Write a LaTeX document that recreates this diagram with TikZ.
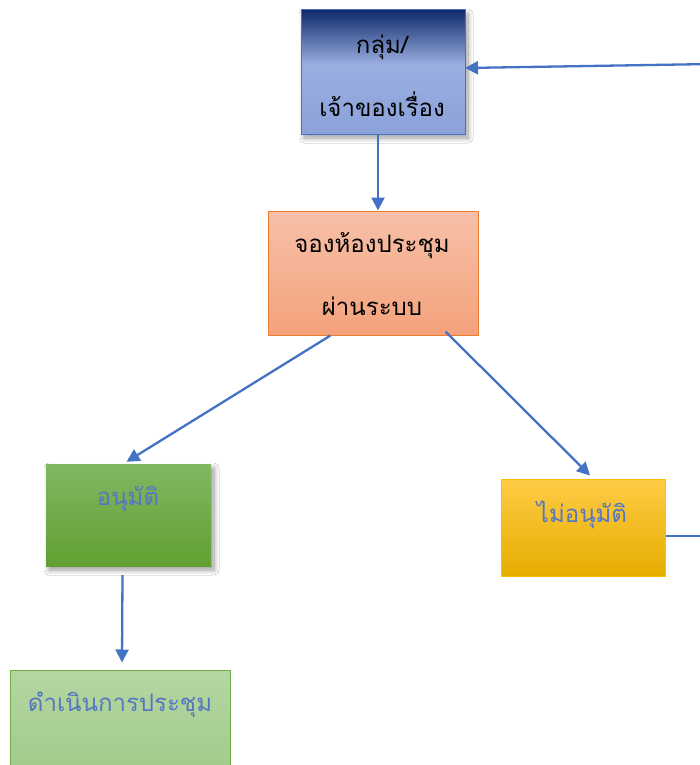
\documentclass[tikz,border=0pt]{standalone}
\usepackage{fontspec}
\newfontfamily\thaifont[Script=Thai]{Loma}
\usetikzlibrary{arrows.meta,shadows.blur,calc}
\definecolor{lineblue}{HTML}{4472C4}
\definecolor{txtblue}{HTML}{5577C2}
\definecolor{aTop}{HTML}{0F2A6B}
\definecolor{aMid}{HTML}{9AAEE0}
\definecolor{aBot}{HTML}{8BA2D9}
\definecolor{bTop}{HTML}{F7C0A8}
\definecolor{bBot}{HTML}{F4A27C}
\definecolor{bLine}{HTML}{ED7D31}
\definecolor{cTop}{HTML}{80B862}
\definecolor{cBot}{HTML}{60A030}
\definecolor{dTop}{HTML}{FFCB45}
\definecolor{dMid}{HTML}{FFC000}
\definecolor{dBot}{HTML}{E6AD00}
\definecolor{eTop}{HTML}{B5D6A2}
\definecolor{eBot}{HTML}{9CC884}
\definecolor{gLine}{HTML}{70AD47}
\pgfdeclareverticalshading{shadeA}{100bp}{color(0bp)=(aBot); color(25bp)=(aBot); color(53bp)=(aMid); color(75bp)=(aTop); color(100bp)=(aTop)}
\tikzset{
  box/.style={rectangle, inner sep=0pt},
  boxshadow/.style={blur shadow={shadow xshift=3pt, shadow yshift=-4pt, shadow blur radius=5pt, shadow blur steps=10, shadow opacity=40}},
  lbl/.style={font=\thaifont\fontsize{24}{28}\selectfont, inner sep=0pt},
  conn/.style={draw=lineblue, line width=2.3pt, -{Triangle[length=13pt,width=13pt]}},
  plainconn/.style={draw=lineblue, line width=2.3pt}
}
\begin{document}
\begin{tikzpicture}[x=1pt,y=-1pt]
\useasboundingbox (0,0) rectangle (700,765);
\clip (0,0) rectangle (700,765);
\fill[white] (0,0) rectangle (700,765);
% boxes
\node[box, boxshadow, shading=shadeA, draw=lineblue, line width=1pt, minimum width=164pt, minimum height=124pt] (A) at (383,72) {};
\node[box, top color=bTop, bottom color=bBot, draw=bLine, line width=1pt, minimum width=210pt, minimum height=124pt] (B) at (373,273) {};
\node[box, boxshadow, top color=cTop, bottom color=cBot, minimum width=165pt, minimum height=102pt] (C) at (128.5,515) {};
\node[box, top color=dTop, middle color=dMid, bottom color=dBot, draw=dMid, line width=1pt, minimum width=164pt, minimum height=97pt] (D) at (583,527.5) {};
\node[box, top color=eTop, bottom color=eBot, draw=gLine, line width=1pt, minimum width=220pt, minimum height=130pt] (E) at (120,735) {};
% labels
\node[lbl] (A1) at (382,47) {กลุ่ม/};
\node[lbl] (A2) at (382,104) {เจ้าของเรื่อง};
\node[lbl] (B1) at (372,246) {จองห้องประชุม};
\node[lbl] (B2) at (372,306) {ผ่านระบบ};
\node[lbl, text=txtblue] (C1) at (128,499) {อนุมัติ};
\node[lbl, text=txtblue] (D1) at (582,515) {ไม่อนุมัติ};
\node[lbl, text=txtblue] (E1) at (120,705) {ดำเนินการประชุม};
% connector end points
\coordinate (Aout) at ($(A.south)+(-5,0)$);
\coordinate (Bin) at ($(B.north)+(5,0)$);
\coordinate (Bl) at ($(B.south west)+(63,0)$);
\coordinate (Br) at ($(B.south west)+(178,-4)$);
\coordinate (Cin) at ($(C.north)+(-2,-2)$);
\coordinate (Din) at ($(D.north)+(7,-3)$);
\coordinate (Cout) at ($(C.south)+(-6,9)$);
\coordinate (Ein) at ($(E.north)+(2,-7)$);
\coordinate (Dout) at (D.east|-0,536);
\coordinate (Rlow) at (712,536);
\coordinate (Rhigh) at (712,64);
\coordinate (Ain) at (465,68);
% connectors
\draw[conn] (Aout) -- (Bin);
\draw[conn] (Bl) -- (Cin);
\draw[conn] (Br) -- (Din);
\draw[conn] (Cout) -- (Ein);
\draw[plainconn] (Dout) -- (Rlow);
\draw[conn] (Rhigh) -- (Ain);
\end{tikzpicture}
\end{document}
